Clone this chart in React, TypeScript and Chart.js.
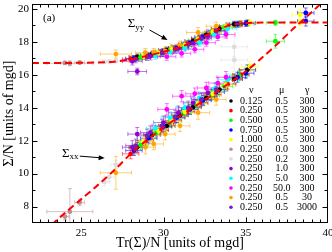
import React, { useEffect, useRef } from "react";
import { Chart, registerables } from "chart.js";

Chart.register(...registerables);

const FONT = "'Liberation Serif', 'Times New Roman', serif";

const xMajorTicks = [25, 30, 35, 40];
const yMajorTicks = [8, 10, 12, 14, 16, 18, 20];

// theory curves (red dashed)
const syyCurveTr = [22, 24, 26, 27, 28, 29, 30, 31, 32, 33, 34, 35, 36, 38, 40];
const syyCurveVal = [16.72, 16.72, 16.75, 16.8, 16.95, 17.15, 17.4, 17.68, 18.1, 18.6, 19.0, 19.14, 19.17, 19.17, 19.17];
const sxxCurveTr = [23.2, 24, 25, 26, 27, 28, 29, 30, 31, 32, 33, 34, 35, 36, 37, 38, 39, 39.6];
const sxxCurveVal = [6.9, 7.6, 8.45, 9.3, 10.2, 11.2, 12.05, 12.8, 13.5, 14.15, 14.8, 15.5, 16.2, 17.05, 17.95, 18.9, 19.8, 20.35];

// legend
const legendNu = ["0.125", "0.250", "0.500", "0.750", "1.000", "0.250", "0.250", "0.250", "0.250", "0.250", "0.250", "0.250"];
const legendMu = ["0.5", "0.5", "0.5", "0.5", "0.5", "0.0", "0.2", "1.0", "5.0", "50.0", "0.5", "0.5"];
const legendGamma = ["300", "300", "300", "300", "300", "300", "300", "300", "300", "300", "30", "3000"];
const seriesColors = ["#000000", "#ff0000", "#00ff00", "#0000ff", "#ffff00", "#bc8f8f", "#dcdcdc", "#9400d3", "#00ffff", "#ff00ff", "#ffa500", "#7221bc"];

// simulation points: Tr(Σ)/N, Σxx/N, Σyy/N and their errors, one row per series
const trValues = [
  [28.4, 29.3, 30.2, 31.0, 31.8, 32.6, 33.4, 34.3, 35.1],
  [28.0, 28.9, 29.8, 30.6, 31.4, 32.2, 33.0, 33.9, 34.7],
  [28.6, 29.5, 30.4, 31.2, 32.0, 32.9, 33.7, 34.6, 36.8],
  [28.2, 29.1, 30.0, 30.8, 31.6, 32.4, 33.2, 34.5, 35.0, 38.65],
  [28.8, 29.7, 30.5, 31.3, 32.1, 33.0, 33.8, 35.25, 38.3],
  [24.0, 24.3, 24.9],
  [26.4, 26.7, 27.1, 34.3],
  [28.1, 28.4, 29.2, 30.0, 30.9, 31.8, 32.7],
  [29.5, 30.4, 31.3, 32.2, 33.1, 33.9],
  [30.2, 31.1, 31.9, 32.6, 33.3, 33.8],
  [27.1, 28.9, 29.4, 30.1, 31.0, 32.1, 33.2],
  [28.3, 29.0, 29.9, 30.7, 31.5, 32.3, 33.2],
];
const trErrors = [
  [0.5, 0.5, 0.5, 0.5, 0.5, 0.5, 0.5, 0.5, 0.5],
  [0.5, 0.5, 0.5, 0.5, 0.5, 0.5, 0.5, 0.5, 0.5],
  [0.5, 0.5, 0.5, 0.5, 0.5, 0.5, 0.5, 0.5, 0.55],
  [0.5, 0.5, 0.5, 0.5, 0.5, 0.5, 0.5, 0.5, 0.5, 0.5],
  [0.5, 0.5, 0.5, 0.5, 0.5, 0.5, 0.5, 0.5, 0.5],
  [0.25, 1.4, 0.3],
  [0.3, 0.3, 0.3, 0.8],
  [0.6, 0.57, 0.6, 0.6, 0.6, 0.6, 0.6],
  [0.55, 0.55, 0.55, 0.55, 0.55, 0.55],
  [0.55, 0.55, 0.55, 0.55, 0.55, 0.55],
  [0.95, 0.6, 0.6, 0.6, 0.6, 0.7, 0.6],
  [0.6, 0.6, 0.6, 0.6, 0.6, 0.6, 0.6],
];
const sxxValues = [
  [11.6, 12.35, 12.9, 13.55, 14.05, 14.6, 15.1, 15.75, 16.3],
  [11.2, 11.97, 12.65, 13.22, 13.76, 14.28, 14.8, 15.43, 15.99],
  [11.75, 12.45, 13.1, 13.65, 14.2, 14.75, 15.3, 15.95, 18.04],
  [11.4, 12.15, 12.85, 13.4, 13.9, 14.45, 14.95, 15.85, 16.1, 19.76],
  [11.95, 12.6, 13.2, 13.75, 14.25, 14.85, 15.4, 16.5, 19.64],
  [7.39, 7.69, 8.25],
  [9.49, 9.79, 10.55, 16.9],
  [11.6, 12.4, 12.5, 13.1, 13.7, 14.3, 14.9],
  [12.75, 13.4, 14.0, 14.6, 15.15, 15.7],
  [13.9, 14.7, 14.85, 15.2, 15.5, 15.85],
  [10.05, 11.6, 11.8, 12.4, 12.9, 13.7, 14.5],
  [11.7, 12.3, 12.9, 13.45, 14.0, 14.5, 15.1],
];
const sxxErrors = [
  [0.3, 0.3, 0.3, 0.3, 0.3, 0.3, 0.3, 0.3, 0.3],
  [0.3, 0.3, 0.3, 0.3, 0.3, 0.3, 0.3, 0.3, 0.3],
  [0.3, 0.3, 0.3, 0.3, 0.3, 0.3, 0.3, 0.3, 0.42],
  [0.3, 0.3, 0.3, 0.3, 0.3, 0.3, 0.3, 0.3, 0.3, 0.3],
  [0.3, 0.3, 0.3, 0.3, 0.3, 0.3, 0.3, 0.3, 0.3],
  [0.2, 1.4, 0.2],
  [0.25, 0.25, 0.25, 0.7],
  [0.4, 0.4, 0.4, 0.4, 0.4, 0.4, 0.4],
  [0.35, 0.35, 0.35, 0.35, 0.35, 0.35],
  [0.35, 0.35, 0.35, 0.35, 0.35, 0.35],
  [1.0, 0.4, 0.35, 0.35, 0.35, 0.4, 0.35],
  [0.4, 0.4, 0.4, 0.4, 0.4, 0.4, 0.4],
];
const syyValues = [
  [17.08, 17.25, 17.5, 17.72, 18.05, 18.42, 18.8, 19.07, 19.15],
  [16.95, 17.13, 17.35, 17.57, 17.85, 18.2, 18.6, 18.96, 19.1],
  [17.07, 17.27, 17.51, 17.76, 18.1, 18.55, 18.88, 19.08, 19.16],
  [16.99, 17.17, 17.4, 17.62, 17.92, 18.3, 18.68, 19.07, 19.12, 19.26],
  [17.11, 17.32, 17.54, 17.8, 18.15, 18.6, 18.92, 19.15, 19.16],
  [16.72, 16.7, 16.74],
  [16.78, 16.8, 16.83, 17.7],
  [16.82, 16.2, 17.12, 17.35, 17.6, 17.92, 18.35],
  [17.15, 17.38, 17.6, 17.95, 18.45, 18.8],
  [17.1, 17.3, 17.55, 17.95, 18.3, 18.45],
  [17.26, 17.35, 17.35, 17.45, 17.8, 18.57, 18.95],
  [16.95, 17.1, 17.33, 17.55, 17.85, 18.2, 18.65],
];
const syyErrors = [
  [0.18, 0.18, 0.18, 0.18, 0.18, 0.18, 0.18, 0.18, 0.18],
  [0.18, 0.18, 0.18, 0.18, 0.18, 0.18, 0.18, 0.18, 0.18],
  [0.18, 0.18, 0.18, 0.18, 0.18, 0.18, 0.18, 0.18, 0.15],
  [0.18, 0.18, 0.18, 0.18, 0.18, 0.18, 0.18, 0.18, 0.18, 0.3],
  [0.18, 0.18, 0.18, 0.18, 0.18, 0.18, 0.18, 0.18, 0.2],
  [0.1, 0.15, 0.1],
  [0.1, 0.1, 0.1, 0.6],
  [0.22, 0.2, 0.22, 0.22, 0.22, 0.22, 0.22],
  [0.22, 0.22, 0.22, 0.22, 0.22, 0.22],
  [0.22, 0.22, 0.22, 0.22, 0.22, 0.22],
  [0.25, 0.25, 0.25, 0.25, 0.25, 0.3, 0.25],
  [0.22, 0.22, 0.22, 0.22, 0.22, 0.22, 0.22],
];

const errorBarPlugin = {
  id: "errorBars",
  beforeDatasetsDraw(chart: any) {
    const { ctx, chartArea: a, scales } = chart;
    const x = scales.x, y = scales.y;
    ctx.save();
    ctx.beginPath();
    ctx.rect(a.left, a.top, a.right - a.left, a.bottom - a.top);
    ctx.clip();
    ctx.lineWidth = 1;
    ctx.globalAlpha = 0.55;
    seriesColors.forEach((c, s) => {
      ctx.strokeStyle = c;
      trValues[s].forEach((t, i) => {
        const pairs = [
          [sxxValues[s][i], sxxErrors[s][i]],
          [syyValues[s][i], syyErrors[s][i]],
        ];
        pairs.forEach(([v, e]) => {
          const px = x.getPixelForValue(t), py = y.getPixelForValue(v);
          const x0 = x.getPixelForValue(t - trErrors[s][i]);
          const x1 = x.getPixelForValue(t + trErrors[s][i]);
          const y0 = y.getPixelForValue(v - e), y1 = y.getPixelForValue(v + e);
          ctx.beginPath();
          ctx.moveTo(x0, py); ctx.lineTo(x1, py);
          ctx.moveTo(x0, py - 2); ctx.lineTo(x0, py + 2);
          ctx.moveTo(x1, py - 2); ctx.lineTo(x1, py + 2);
          ctx.moveTo(px, y0); ctx.lineTo(px, y1);
          ctx.moveTo(px - 2, y0); ctx.lineTo(px + 2, y0);
          ctx.moveTo(px - 2, y1); ctx.lineTo(px + 2, y1);
          ctx.stroke();
        });
      });
    });
    ctx.restore();
  },
};

function arrow(ctx: CanvasRenderingContext2D, x0: number, y0: number, x1: number, y1: number) {
  const ang = Math.atan2(y1 - y0, x1 - x0);
  const L = 6, W = 2.5;
  ctx.beginPath();
  ctx.moveTo(x0, y0);
  ctx.lineTo(x1 - L * Math.cos(ang) * 0.8, y1 - L * Math.sin(ang) * 0.8);
  ctx.stroke();
  ctx.beginPath();
  ctx.moveTo(x1, y1);
  ctx.lineTo(x1 - L * Math.cos(ang) + W * Math.sin(ang), y1 - L * Math.sin(ang) - W * Math.cos(ang));
  ctx.lineTo(x1 - L * Math.cos(ang) - W * Math.sin(ang), y1 - L * Math.sin(ang) + W * Math.cos(ang));
  ctx.closePath();
  ctx.fill();
}

const framePlugin = {
  id: "frameAndText",
  afterDraw(chart: any) {
    const { ctx, chartArea: a, scales } = chart;
    const x = scales.x, y = scales.y;
    ctx.save();
    ctx.strokeStyle = "#000";
    ctx.fillStyle = "#000";
    ctx.lineWidth = 1;
    const L = Math.round(a.left) + 0.5, R = Math.round(a.right) - 0.5;
    const T = Math.round(a.top) + 0.5, B = Math.round(a.bottom) - 0.5;
    ctx.strokeRect(L, T, R - L, B - T);
    ctx.beginPath();
    for (let k = 45; k < 80; k++) {
      const v = k / 2;
      const px = Math.round(x.getPixelForValue(v)) + 0.5;
      const len = k % 10 === 0 ? 5 : 3;
      ctx.moveTo(px, B); ctx.lineTo(px, B - len);
      ctx.moveTo(px, T); ctx.lineTo(px, T + len);
    }
    for (let v = 8; v <= 20; v++) {
      const py = Math.round(y.getPixelForValue(v)) + 0.5;
      const len = v % 2 === 0 ? 5 : 3;
      ctx.moveTo(L, py); ctx.lineTo(L + len, py);
      ctx.moveTo(R, py); ctx.lineTo(R - len, py);
    }
    ctx.stroke();

    // panel label
    ctx.font = `11px ${FONT}`;
    ctx.textBaseline = "middle";
    ctx.textAlign = "left";
    ctx.fillText("(a)", x.getPixelForValue(22.67), y.getPixelForValue(19.44));

    // Σyy label + arrow
    ctx.textBaseline = "alphabetic";
    let tx = x.getPixelForValue(27.82), ty = y.getPixelForValue(18.9);
    ctx.font = `13px ${FONT}`;
    ctx.fillText("Σ", tx, ty);
    let w = ctx.measureText("Σ").width;
    ctx.font = `9px ${FONT}`;
    ctx.fillText("yy", tx + w, ty + 3);
    arrow(ctx, x.getPixelForValue(29.15), y.getPixelForValue(18.72), x.getPixelForValue(30.24), y.getPixelForValue(18.12));

    // Σxx label + arrow
    tx = x.getPixelForValue(23.82); ty = y.getPixelForValue(11.03);
    ctx.font = `13px ${FONT}`;
    ctx.fillText("Σ", tx, ty);
    w = ctx.measureText("Σ").width;
    ctx.font = `9px ${FONT}`;
    ctx.fillText("xx", tx + w, ty + 2);
    arrow(ctx, x.getPixelForValue(24.91), y.getPixelForValue(11.06), x.getPixelForValue(26.42), y.getPixelForValue(10.94));

    // legend table
    const mx = x.getPixelForValue(34.1);
    const nuX = x.getPixelForValue(35.33);
    const muX = x.getPixelForValue(37.19);
    const gX = x.getPixelForValue(38.73);
    const headY = y.getPixelForValue(15.08);
    const row0 = y.getPixelForValue(14.41);
    const step = 9.66;
    ctx.textAlign = "center";
    ctx.textBaseline = "middle";
    ctx.font = `10px ${FONT}`;
    ctx.fillText("ν", nuX, headY);
    ctx.fillText("μ", muX, headY);
    ctx.fillText("γ", gX, headY);
    legendNu.forEach((nu, i) => {
      const ry = row0 + i * step;
      ctx.fillStyle = seriesColors[i];
      ctx.beginPath();
      ctx.arc(mx, ry, 1.8, 0, Math.PI * 2);
      ctx.fill();
      ctx.fillStyle = "#000";
      ctx.fillText(nu, nuX, ry);
      ctx.fillText(legendMu[i], muX, ry);
      ctx.fillText(legendGamma[i], gX, ry);
    });
    ctx.restore();
  },
};

export default function App() {
  const ref = useRef<HTMLCanvasElement | null>(null);
  useEffect(() => {
    if (!ref.current) return;
    const curve = (trs: number[], vals: number[]) => ({
      data: trs.map((t, i) => ({ x: t, y: vals[i] })),
      showLine: true,
      borderColor: "#ff0000",
      borderWidth: 2,
      borderDash: [7, 4],
      pointRadius: 0,
      fill: false,
      tension: 0.3,
      order: 0,
    });
    const pointSets = seriesColors.map((c, s) => ({
      data: [
        ...trValues[s].map((t, i) => ({ x: t, y: sxxValues[s][i] })),
        ...trValues[s].map((t, i) => ({ x: t, y: syyValues[s][i] })),
      ],
      backgroundColor: c,
      borderColor: c,
      borderWidth: 0,
      pointRadius: 2.4,
      showLine: false,
      order: 100 - s,
    }));
    const chart = new Chart(ref.current, {
      type: "scatter",
      data: { datasets: [curve(syyCurveTr, syyCurveVal), curve(sxxCurveTr, sxxCurveVal), ...pointSets] as any },
      options: {
        animation: false,
        responsive: false,
        layout: { padding: { top: 2, right: 3, left: 0, bottom: 0 } },
        plugins: { legend: { display: false }, tooltip: { enabled: false } },
        scales: {
          x: {
            type: "linear",
            min: 22,
            max: 40,
            grid: { display: false, drawTicks: false },
            border: { display: false },
            ticks: { font: { family: FONT, size: 11 }, color: "#000", padding: 4 },
            title: {
              display: true,
              text: "Tr(Σ)/N [units of mgd]",
              font: { family: FONT, size: 14 },
              color: "#000",
              padding: { top: 0, bottom: 0.5 },
            },
            afterBuildTicks: (s: any) => { s.ticks = xMajorTicks.map((v) => ({ value: v })); },
            afterFit: (s: any) => { s.height = 29; s.paddingLeft = 0; s.paddingRight = 0; },
          },
          y: {
            type: "linear",
            min: 7,
            max: 20.3,
            grid: { display: false, drawTicks: false },
            border: { display: false },
            ticks: { font: { family: FONT, size: 11 }, color: "#000", padding: 3 },
            title: {
              display: true,
              text: "Σ/N [units of mgd]",
              font: { family: FONT, size: 14 },
              color: "#000",
              padding: { top: 0.5, bottom: 0 },
            },
            afterBuildTicks: (s: any) => { s.ticks = yMajorTicks.map((v) => ({ value: v })); },
            afterFit: (s: any) => { s.width = 32; s.paddingTop = 0; s.paddingBottom = 0; },
          },
        },
      },
      plugins: [errorBarPlugin, framePlugin],
    });
    return () => chart.destroy();
  }, []);
  return (
    <div style={{ position: "fixed", left: 0, top: 0, width: 332, height: 252, background: "#fff" }}>
      <canvas ref={ref} width={332} height={252} style={{ display: "block", width: 332, height: 252 }} />
    </div>
  );
}
